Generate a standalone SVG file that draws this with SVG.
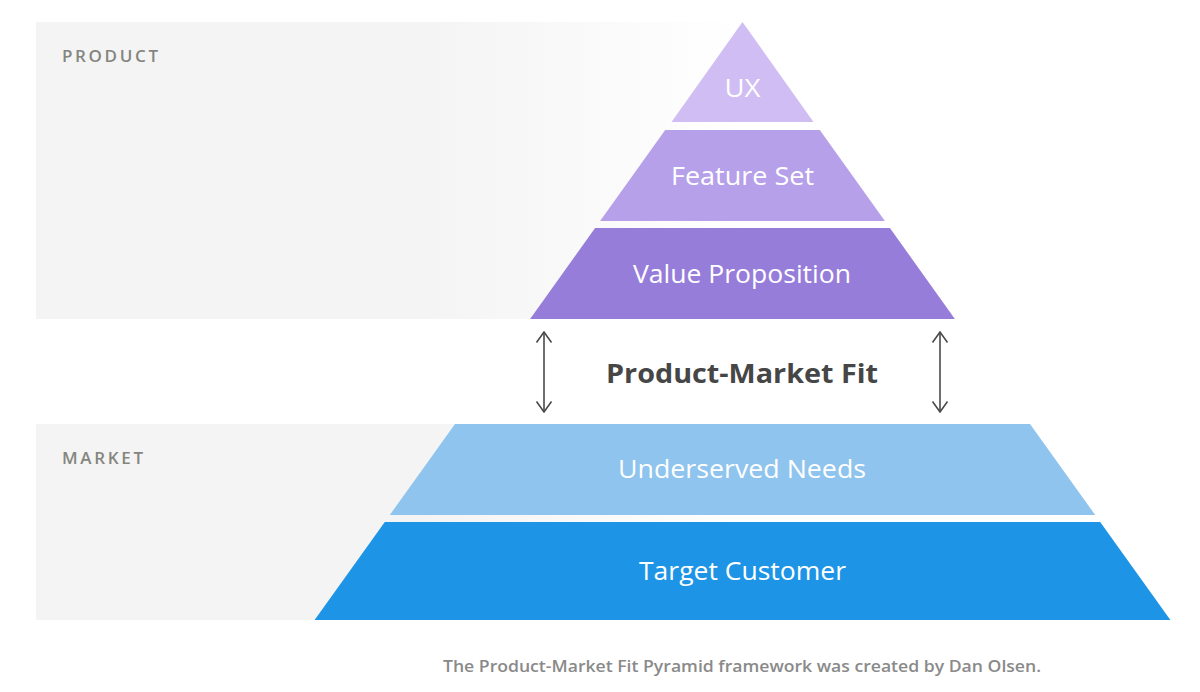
<svg xmlns="http://www.w3.org/2000/svg" width="1200" height="692" viewBox="0 0 1200 692">
<defs>
<linearGradient id="fade" x1="36" y1="0" x2="740" y2="0" gradientUnits="userSpaceOnUse">
<stop offset="0" stop-color="#f4f4f4"/>
<stop offset="0.55" stop-color="#f4f4f4"/>
<stop offset="1" stop-color="#ffffff"/>
</linearGradient>
<marker id="ah" viewBox="0 0 12 18" refX="11" refY="9" markerWidth="12" markerHeight="18" markerUnits="userSpaceOnUse" orient="auto-start-reverse">
<path d="M0.5,1.5 L11,9 L0.5,16.5" fill="none" stroke="#4a4a4a" stroke-width="1.6"/>
</marker>
<style>
.lvl{font-family:"Open Sans",Lato,sans-serif;font-size:25px;fill:#ffffff;text-anchor:middle}
.side{font-family:"Open Sans",Lato,sans-serif;font-size:17px;font-weight:600;fill:#85857f}
.arr{stroke:#4a4a4a;stroke-width:1.6;fill:none}
</style>
</defs>
<rect id="product-band" x="36" y="22" width="704" height="297" fill="url(#fade)"/>
<rect id="market-band" x="36" y="424" width="704" height="196" fill="url(#fade)"/>
<text class="side" x="62" y="62" textLength="96" lengthAdjust="spacing">PRODUCT</text>
<text class="side" x="62" y="464" textLength="81" lengthAdjust="spacing">MARKET</text>
<g id="ux"><polygon points="742.5,22 813.5,122 671.5,122" fill="#cfbdf3"/><text class="lvl" x="742.5" y="97" textLength="36" lengthAdjust="spacingAndGlyphs">UX</text></g>
<g id="feature-set"><polygon points="665.2,130 819.8,130 884.9,221 600.1,221" fill="#b6a0e9"/><text class="lvl" x="742.5" y="185" textLength="143" lengthAdjust="spacingAndGlyphs">Feature Set</text></g>
<g id="value-proposition"><polygon points="595.1,228 889.9,228 954.9,319 530.1,319" fill="#977dda"/><text class="lvl" x="742" y="283" textLength="218" lengthAdjust="spacingAndGlyphs">Value Proposition</text></g>
<g id="underserved-needs"><polygon points="455,424 1030,424 1095.2,515 389.8,515" fill="#8ec4ee"/><text class="lvl" x="742" y="478" textLength="248" lengthAdjust="spacingAndGlyphs">Underserved Needs</text></g>
<g id="target-customer"><polygon points="384.8,522 1100.2,522 1170.4,620 314.6,620" fill="#1e94e6"/><text class="lvl" x="742.5" y="580" textLength="207" lengthAdjust="spacingAndGlyphs">Target Customer</text></g>
<g id="connectors">
<line class="arr" x1="544" y1="332" x2="544" y2="412" marker-start="url(#ah)" marker-end="url(#ah)"/>
<line class="arr" x1="940" y1="332" x2="940" y2="412" marker-start="url(#ah)" marker-end="url(#ah)"/>
</g>
<text id="pmf" x="742" y="383" font-family="'Open Sans',Lato,sans-serif" font-size="27" font-weight="bold" fill="#464646" text-anchor="middle" textLength="272" lengthAdjust="spacingAndGlyphs">Product-Market Fit</text>
<text id="caption" x="443" y="672" font-family="'Open Sans',Lato,sans-serif" font-size="15.5" font-weight="600" fill="#8a8a8a" textLength="598" lengthAdjust="spacingAndGlyphs">The Product-Market Fit Pyramid framework was created by Dan Olsen.</text>
</svg>
